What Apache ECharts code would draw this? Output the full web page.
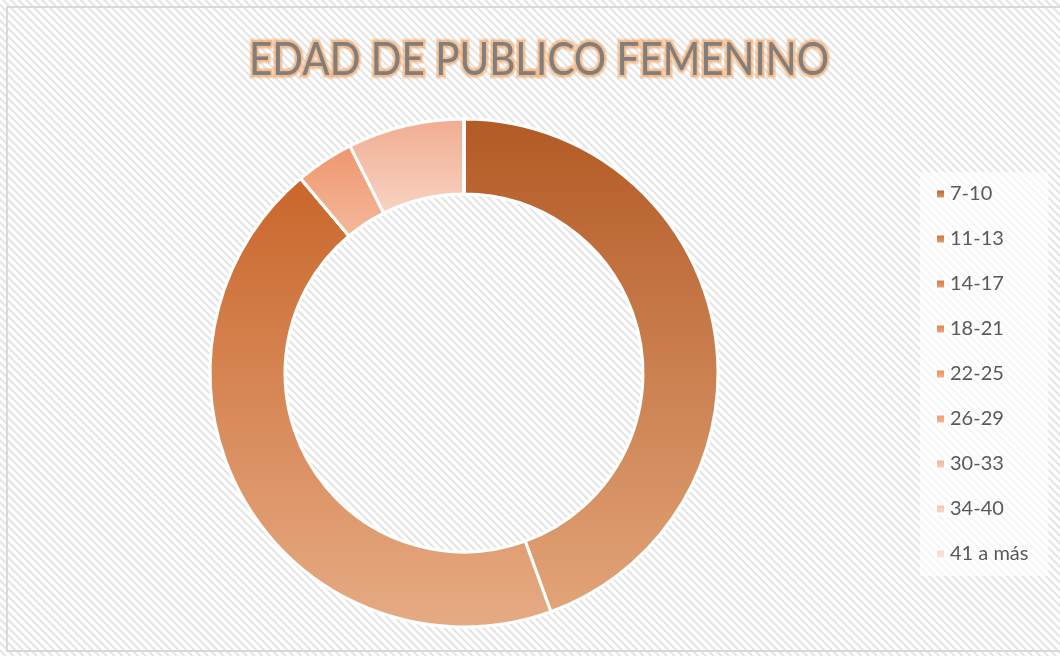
<!DOCTYPE html>
<html>
<head>
<meta charset="utf-8">
<script src="https://cdn.jsdelivr.net/npm/echarts@6/dist/echarts.min.js"></script>
<style>
  html, body { margin: 0; padding: 0; }
  body {
    width: 1060px; height: 656px; overflow: hidden;
    background: repeating-linear-gradient(45deg, #ffffff 0px, #ffffff 2.5px, #e3e3e3 3.5px, #e3e3e3 4.5px, #ffffff 5.5px);
  }
  #frame {
    position: absolute; left: 6px; top: 6px; width: 1054px; height: 646px;
    border: 2px solid #d9d9d9; border-right: none; box-sizing: border-box;
  }
  #chart { position: absolute; left: 0; top: 0; width: 1060px; height: 656px; }
</style>
</head>
<body>
<div id="frame"></div>
<div id="chart"></div>
<script>
// Data
const categories = ['7-10', '11-13', '14-17', '18-21', '22-25', '26-29', '30-33', '34-40', '41 a más'];
const counts = [12, 12, 0, 0, 0, 1, 2, 0, 0];
const titleText = 'EDAD DE PUBLICO FEMENINO';
// top / bottom shade per slice
const topColors = ['#b35a25', '#c9662b', '#d0733a', '#e07a3f', '#ec8549', '#ee966c', '#f0ac90', '#f3c0a8', '#f7d5c6'];
const bottomColors = ['#e2a478', '#e6ab84', '#e8a57e', '#eeae86', '#f3b88e', '#f4b99c', '#f8d3c3', '#f9dccf', '#fbe8df'];

const chart = echarts.init(document.getElementById('chart'), null, { renderer: 'canvas' });

const pieData = categories.map((name, i) => ({
    name: name,
    value: counts[i],
    itemStyle: {
        color: new echarts.graphic.LinearGradient(0, 0, 0, 1, [
            { offset: 0, color: topColors[i] },
            { offset: 1, color: bottomColors[i] }
        ])
    }
}));

const titleFont = '47px Lato, "Noto Sans", sans-serif';

// soft orange glow under the title
function glowLayer(width, alpha, blur) {
    return {
        type: 'text',
        x: 539, y: 60, scaleX: 0.86,
        silent: true,
        style: {
            text: titleText,
            font: titleFont,
            align: 'center',
            verticalAlign: 'middle',
            fill: 'rgba(240,160,92,' + alpha + ')',
            stroke: 'rgba(240,160,92,' + alpha + ')',
            lineWidth: width,
            shadowColor: '#f0a05c',
            shadowBlur: blur
        }
    };
}

chart.setOption({
    backgroundColor: 'transparent',
    animation: false,
    graphic: [glowLayer(7, 0.35, 8), glowLayer(4, 0.5, 5), {
        type: 'text',
        x: 539, y: 60, scaleX: 0.86,
        silent: true,
        style: {
            text: titleText,
            font: titleFont,
            align: 'center',
            verticalAlign: 'middle',
            fill: '#7f7f7f'
        }
    }],
    legend: {
        orient: 'vertical',
        left: 920,
        top: 172,
        padding: [12, 20, 12, 15],
        backgroundColor: 'rgba(255,255,255,0.65)',
        itemWidth: 9,
        itemHeight: 9,
        itemGap: 25,
        itemTextGap: 8,
        icon: 'rect',
        textStyle: {
            color: '#595959',
            fontSize: 20,
            lineHeight: 20,
            fontFamily: 'Lato, "Noto Sans", sans-serif'
        },
        data: categories
    },
    series: [{
        type: 'pie',
        center: [464, 373],
        radius: [179, 254],
        startAngle: 90,
        clockwise: true,
        label: { show: false },
        labelLine: { show: false },
        emphasis: { disabled: true },
        itemStyle: { borderColor: '#ffffff', borderWidth: 3 },
        data: pieData
    }]
});
</script>
</body>
</html>
